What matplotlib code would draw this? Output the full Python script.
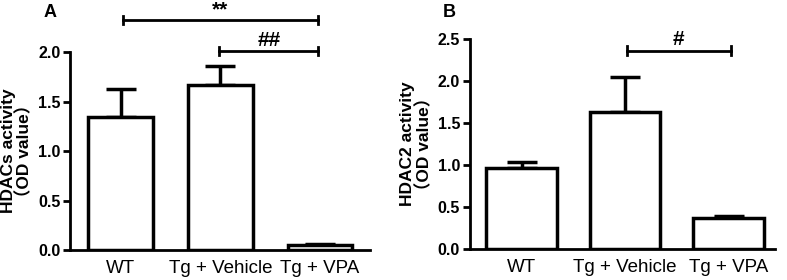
import matplotlib
matplotlib.use("Agg")
import matplotlib.pyplot as plt

categories = ["WT", "Tg + Vehicle", "Tg + VPA"]
hdacs_mean = [1.34, 1.67, 0.05]
hdacs_err = [0.29, 0.19, 0.015]
hdac2_mean = [0.96, 1.63, 0.365]
hdac2_err = [0.07, 0.42, 0.025]

plt.rcParams['font.family'] = ['Liberation Sans', 'Noto Sans CJK SC', 'DejaVu Sans']

fig = plt.figure(figsize=(7.87, 2.8), dpi=100)
axA = fig.add_axes([0.089, 0.107, 0.381, 0.707])
axB = fig.add_axes([0.597, 0.111, 0.388, 0.750])


def draw(ax, means, errs, ylim, yticks, ylabel, width, xlim):
    x = range(len(categories))
    ax.bar(x, means, width=width, color="white", edgecolor="black", linewidth=2.5, zorder=2)
    ax.errorbar(x, means, yerr=[[0] * len(errs), errs], fmt="none", ecolor="black",
                elinewidth=2.5, capsize=11, capthick=2.5, zorder=1)
    ax.set_ylim(*ylim)
    ax.set_xlim(*xlim)
    ax.set_yticks(yticks)
    ax.set_yticklabels([f"{t:.1f}" for t in yticks], fontsize=11.5, fontweight="bold")
    ax.set_xticks(list(x))
    ax.set_xticklabels(categories, fontsize=13.5)
    ax.tick_params(axis="x", length=0, pad=7)
    ax.tick_params(axis="y", width=2, length=5, direction="out", pad=2)
    for s in ["top", "right"]:
        ax.spines[s].set_visible(False)
    for s in ["left", "bottom"]:
        ax.spines[s].set_linewidth(2)
    ax.set_ylabel(ylabel, fontsize=12.5, fontweight="bold", linespacing=1.0, labelpad=4)


def sig(ax, x1, x2, y, text, h):
    ax.plot([x1, x2], [y, y], color="black", lw=2, clip_on=False)
    ax.plot([x1, x1], [y - h, y + h], color="black", lw=2, clip_on=False)
    ax.plot([x2, x2], [y - h, y + h], color="black", lw=2, clip_on=False)
    ax.text((x1 + x2) / 2, y + h * 0.3, text, ha="center", va="bottom", fontsize=15,
            fontweight="bold", clip_on=False)


draw(axA, hdacs_mean, hdacs_err, (0, 2.0), [0.0, 0.5, 1.0, 1.5, 2.0],
     "HDACs activity\n（OD value）", 0.65, (-0.51, 2.5))
draw(axB, hdac2_mean, hdac2_err, (0, 2.5), [0.0, 0.5, 1.0, 1.5, 2.0, 2.5],
     "HDAC2 activity\n（OD value）", 0.68, (-0.5, 2.45))

sig(axA, 0.02, 1.98, 2.32, "**", 0.04)
sig(axA, 0.99, 1.98, 2.01, "##", 0.04)
sig(axB, 1.02, 2.02, 2.36, "#", 0.05)

fig.text(0.055, 0.985, "A", fontsize=13, fontweight="bold", va="top")
fig.text(0.563, 0.985, "B", fontsize=13, fontweight="bold", va="top")

fig.savefig("out.png", dpi=100)
